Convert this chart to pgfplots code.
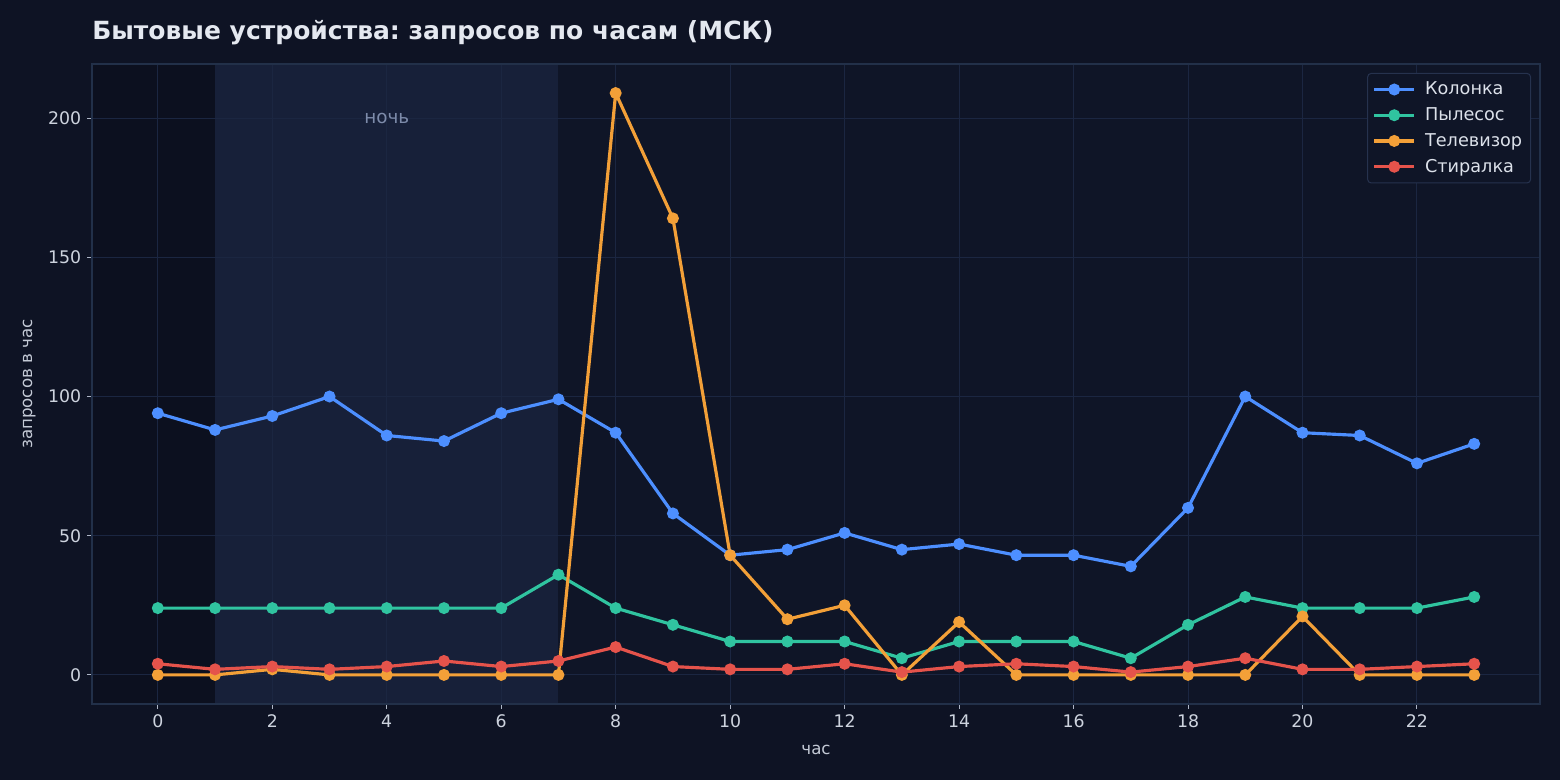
\documentclass[border=0pt]{standalone}
\usepackage{fontspec}
\setmainfont{DejaVu Sans}
\usepackage{pgfplots}
\pgfplotsset{compat=1.18}
\frenchspacing
\definecolor{figbg}{HTML}{0E1324}
\definecolor{axbg}{HTML}{0F1527}
\definecolor{leftbg}{HTML}{0C101F}
\definecolor{nightbg}{HTML}{172039}
\definecolor{gridc}{HTML}{1B2641}
\definecolor{spine}{HTML}{223049}
\definecolor{tickc}{HTML}{AEB6C6}
\definecolor{ticktext}{HTML}{CDD3DE}
\definecolor{labeltext}{HTML}{C3C9D5}
\definecolor{titlec}{HTML}{E4E8F0}
\definecolor{nighttext}{HTML}{7D8BAA}
\definecolor{legbg}{HTML}{0F1527}
\definecolor{legborder}{HTML}{26324E}
\definecolor{legtext}{HTML}{DCE1EA}
\definecolor{cK}{HTML}{4D8FFF}
\definecolor{cP}{HTML}{30C4A0}
\definecolor{cT}{HTML}{F3A038}
\definecolor{cS}{HTML}{E5534B}
\begin{document}
\begin{tikzpicture}[x=1pt,y=1pt]
\begin{axis}[
  at={(55.2pt,45.6pt)}, anchor=south west,
  scale only axis, width=868.8pt, height=384pt,
  xmin=-1.15, xmax=24.15, ymin=-10.45, ymax=219.45,
  set layers=standard,
  xtick={0,2,...,22}, ytick={0,50,100,150,200},
  grid=major, major grid style={draw=gridc, line width=0.6pt},
  axis line style={draw=spine, line width=0.8pt},
  tick pos=left, tick align=outside, major tick length=3pt,
  tick style={draw=tickc, line width=0.6pt},
  ticklabel style={font=\fontsize{10.4}{12}\selectfont, text=ticktext},
  /pgf/number format/assume math mode=true,
  legend style={at={(1,1)}, anchor=north east, xshift=-5.4pt, yshift=-5.4pt,
    fill=legbg, draw=legborder, line width=0.6pt, rounded corners=2pt, text=legtext,
    font=\fontsize{10.6}{12.5}\selectfont, inner xsep=3pt, inner ysep=3pt, row sep=2.2pt,
    /tikz/every odd column/.append style={column sep=3.5pt}},
  legend cell align=left,
  legend image code/.code={\draw[mark repeat=2,mark phase=2,#1] plot coordinates {(0pt,0pt)(12pt,0pt)(24pt,0pt)};},
  every axis plot/.append style={line width=1.9pt, mark=*, mark size=2.6pt},
]
\begin{pgfonlayer}{axis background}
\fill[figbg] ([xshift=-55.2pt,yshift=-45.6pt]rel axis cs:0,0) rectangle ([xshift=12pt,yshift=38.4pt]rel axis cs:1,1);
\fill[axbg] (rel axis cs:0,0) rectangle (rel axis cs:1,1);
\fill[leftbg] (axis cs:-1.15,-10.45) rectangle (axis cs:1,219.45);
\fill[nightbg] (axis cs:1,-10.45) rectangle (axis cs:7,219.45);
\end{pgfonlayer}
\addplot[cK] coordinates {(0,94)(1,88)(2,93)(3,100)(4,86)(5,84)(6,94)(7,99)(8,87)(9,58)(10,43)(11,45)(12,51)(13,45)(14,47)(15,43)(16,43)(17,39)(18,60)(19,100)(20,87)(21,86)(22,76)(23,83)};
\addlegendentry{Колонка}
\addplot[cP] coordinates {(0,24)(1,24)(2,24)(3,24)(4,24)(5,24)(6,24)(7,36)(8,24)(9,18)(10,12)(11,12)(12,12)(13,6)(14,12)(15,12)(16,12)(17,6)(18,18)(19,28)(20,24)(21,24)(22,24)(23,28)};
\addlegendentry{Пылесос}
\addplot[cT] coordinates {(0,0)(1,0)(2,2)(3,0)(4,0)(5,0)(6,0)(7,0)(8,209)(9,164)(10,43)(11,20)(12,25)(13,0)(14,19)(15,0)(16,0)(17,0)(18,0)(19,0)(20,21)(21,0)(22,0)(23,0)};
\addlegendentry{Телевизор}
\addplot[cS] coordinates {(0,4)(1,2)(2,3)(3,2)(4,3)(5,5)(6,3)(7,5)(8,10)(9,3)(10,2)(11,2)(12,4)(13,1)(14,3)(15,4)(16,3)(17,1)(18,3)(19,6)(20,2)(21,2)(22,3)(23,4)};
\addlegendentry{Стиралка}
\node[text=nighttext, font=\fontsize{11}{13}\selectfont] at (axis cs:4,200) {ночь};
\end{axis}
\node[anchor=base west, inner sep=0pt, text=titlec, font=\fontsize{15}{18}\selectfont\bfseries] at (55.2,444.4) {Бытовые устройства: запросов по часам (МСК)};
\node[anchor=base, text=labeltext, font=\fontsize{10}{12}\selectfont] at (489.6,15) {час};
\node[anchor=base, rotate=90, text=labeltext, font=\fontsize{10}{12}\selectfont] at (19.2,237.6) {запросов в час};
\pgfresetboundingbox
\useasboundingbox (0,0) rectangle (936,468);
\end{tikzpicture}
\end{document}
